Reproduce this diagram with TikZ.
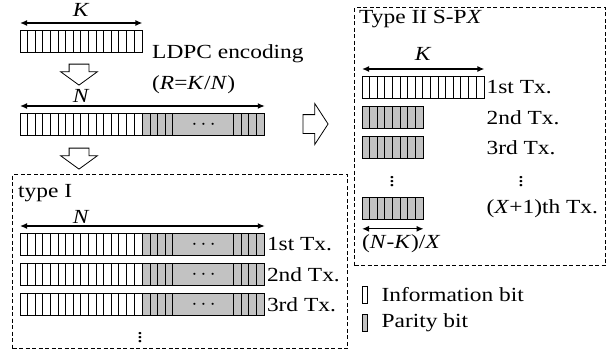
\documentclass[tikz,border=0pt]{standalone}
\usepackage{fontspec}
\setmainfont{Liberation Serif}[FakeStretch=1.17]
\usetikzlibrary{arrows.meta,positioning,shapes.arrows}
\definecolor{paritygray}{gray}{0.76}
\newcommand{\splitbar}[2]{%
  \foreach \i in {#2}
    \draw[cellline] ([xshift=\i*7.6pt]#1.north west) -- ([xshift=\i*7.6pt]#1.south west);}

\begin{document}
\begin{tikzpicture}[
    x=1pt, y=-1pt,
    font=\fontsize{20}{31}\selectfont,
    cellline/.style={line width=0.8pt},
    bar/.style={draw, cellline, inner sep=0pt, minimum height=22pt, anchor=north west},
    infobar/.style={bar, fill=white},
    paritybar/.style={bar, fill=paritygray},
    legbox/.style={draw, cellline, inner sep=0pt, minimum width=5pt, minimum height=17pt},
    dim/.style={{Latex[length=7pt,width=6pt]}-{Latex[length=7pt,width=6pt]}, line width=1.3pt},
    group/.style={draw, dash pattern=on 4pt off 2.5pt, line width=1.4pt, inner sep=0pt, anchor=north west},
    downarrow/.style={single arrow, draw, cellline, fill=white, shape border rotate=270,
        inner xsep=9.5pt, inner ysep=0pt, single arrow head extend=8.5pt,
        single arrow tip angle=108, minimum height=21pt},
    rightarrow/.style={single arrow, draw, cellline, fill=white,
        inner xsep=0pt, inner ysep=9pt, single arrow head extend=11pt,
        single arrow tip angle=114, minimum height=25pt},
    lbl/.style={inner sep=0pt}
  ]
  \useasboundingbox (0,0) rectangle (612,354);

  % information word
  \node[infobar, minimum width=121.6pt] (src) at (20,30) {};
  \splitbar{src}{1,...,15}
  \draw[dim] ([yshift=7pt]src.north west) -- ([yshift=7pt]src.north east)
    node[midway, above=3pt] (klbl) {\textit{K}};

  \node[downarrow] (enc) at (79,71) {};
  \node[lbl, anchor=west, align=left] (ldpc) at (152,69.5) {LDPC encoding\\(\textit{R}=\textit{K}/\textit{N})};

  % codeword
  \node[infobar, minimum width=121.6pt] (cwinfo) at (20,113) {};
  \node[paritybar, minimum width=121.6pt, right=0pt of cwinfo] (cwpar) {$\cdots$};
  \splitbar{cwinfo}{1,...,15}
  \splitbar{cwpar}{1,2,3,4,12,13,14,15}
  \draw[dim] ([yshift=7pt]cwinfo.north west) -- ([yshift=7pt]cwpar.north east);
  \node[lbl, above=3pt of cwinfo.north, yshift=7pt] (nlbl) {\textit{N}};

  \node[downarrow] (split) at (79,155) {};
  \node[rightarrow] (rep) at (312.5,124) {};

  % type I
  \node[group, minimum width=335pt, minimum height=174pt] (typeone) at (12,174) {};
  \node[lbl, anchor=base west] (typeonelbl) at ([shift={(6pt,-23pt)}]typeone.north west) {type I};

  \node[infobar, minimum width=121.6pt] (ainfo) at (20,233) {};
  \node[paritybar, minimum width=121.6pt, right=0pt of ainfo] (apar) {$\cdots$};
  \splitbar{ainfo}{1,...,15}
  \splitbar{apar}{1,2,3,4,12,13,14,15}
  \node[lbl, right=2pt of apar] (atx) {1st Tx.};
  \draw[dim] ([yshift=7pt]ainfo.north west) -- ([yshift=7pt]apar.north east);
  \node[lbl, above=2pt of ainfo.north, yshift=7pt] (anlbl) {\textit{N}};

  \node[infobar, minimum width=121.6pt] (binfo) at (20,263) {};
  \node[paritybar, minimum width=121.6pt, right=0pt of binfo] (bpar) {$\cdots$};
  \splitbar{binfo}{1,...,15}
  \splitbar{bpar}{1,2,3,4,12,13,14,15}
  \node[lbl, right=2pt of bpar] (btx) {2nd Tx.};

  \node[infobar, minimum width=121.6pt] (cinfo) at (20,293) {};
  \node[paritybar, minimum width=121.6pt, right=0pt of cinfo] (cpar) {$\cdots$};
  \splitbar{cinfo}{1,...,15}
  \splitbar{cpar}{1,2,3,4,12,13,14,15}
  \node[lbl, right=2pt of cpar] (ctx) {3rd Tx.};

  \node[lbl] (adots) at (140,335) {$\vdots$};

  % type II
  \node[group, minimum width=251pt, minimum height=258pt] (typetwo) at (354,7) {};
  \node[lbl, anchor=base west] (typetwolbl) at ([shift={(5pt,-16pt)}]typetwo.north west) {Type II S-P\textit{X}};

  \node[infobar, minimum width=121.6pt] (xinfo) at (362,76) {};
  \splitbar{xinfo}{1,...,15}
  \draw[dim] ([yshift=7pt]xinfo.north west) -- ([yshift=7pt]xinfo.north east)
    node[midway, above=5pt] (xklbl) {\textit{K}};
  \node[lbl, right=2pt of xinfo] (xtx1) {1st Tx.};

  \node[paritybar, minimum width=60.8pt] (xpar2) at (362,106) {};
  \node[paritybar, minimum width=60.8pt] (xpar3) at (362,136) {};
  \node[paritybar, minimum width=60.8pt] (xparl) at (362,197) {};
  \splitbar{xpar2}{1,...,7}
  \splitbar{xpar3}{1,...,7}
  \splitbar{xparl}{1,...,7}
  \node[lbl, anchor=west] (xtx2) at (xtx1.west |- xpar2.center) {2nd Tx.};
  \node[lbl, anchor=west] (xtx3) at (xtx1.west |- xpar3.center) {3rd Tx.};
  \node[lbl, anchor=west] (xtxl) at (xtx1.west |- xparl.center) {(\textit{X}+1)th Tx.};
  \node[lbl] (xdotsl) at (392,179) {$\vdots$};
  \node[lbl] (xdotsr) at (xtx3.center |- xdotsl.center) {$\vdots$};

  \draw[dim] ([yshift=-9pt]xparl.south west) -- ([yshift=-9pt]xparl.south east);
  \node[lbl, anchor=north west] (nkx) at ([yshift=-15pt]xparl.south west) {(\textit{N}-\textit{K})/\textit{X}};

  % legend
  \node[legbox, fill=white] (leginfo) at (364.5,295) {};
  \node[lbl, right=14pt of leginfo] (leginfotxt) {Information bit};
  \node[legbox, fill=paritygray] (legpar) at (364.5,322.5) {};
  \node[lbl, right=14pt of legpar] (legpartxt) {Parity bit};
\end{tikzpicture}
\end{document}
